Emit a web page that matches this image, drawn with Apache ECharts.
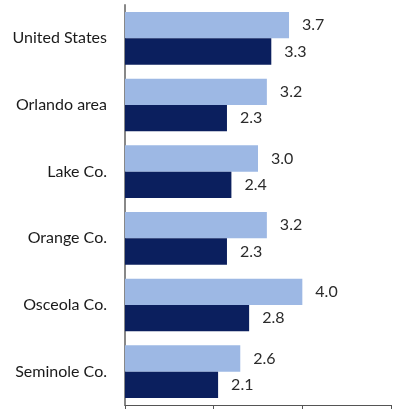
<!DOCTYPE html>
<html>
<head>
<meta charset="utf-8">
<script src="https://cdn.jsdelivr.net/npm/echarts@6/dist/echarts.min.js"></script>
<style>
  html, body { margin: 0; padding: 0; background: #fff; }
  #chart { width: 402px; height: 409px; }
</style>
</head>
<body>
<div id="chart"></div>
<script>
// 地区
const categories = ['United States', 'Orlando area', 'Lake Co.', 'Orange Co.', 'Osceola Co.', 'Seminole Co.'];
// 浅色系列
const lightValues = [3.7, 3.2, 3.0, 3.2, 4.0, 2.6];
// 深色系列
const darkValues = [3.3, 2.3, 2.4, 2.3, 2.8, 2.1];

const font = 'Lato, "Open Sans", sans-serif';

const valueLabel = {
  show: true,
  position: 'right',
  distance: 13,
  fontSize: 16,
  fontFamily: font,
  color: '#2b2b2b',
  formatter: (p) => p.value.toFixed(1),
};

const chart = echarts.init(document.getElementById('chart'));
chart.setOption({
  animation: false,
  grid: {
    left: 125,
    right: 11,
    top: 5,
    bottom: 4,
  },
  xAxis: {
    type: 'value',
    min: 0,
    max: 6,
    interval: 2,
    axisLine: { show: true, lineStyle: { color: '#555', width: 1 } },
    axisTick: { show: true, length: 4, lineStyle: { color: '#555' } },
    axisLabel: { show: false },
    splitLine: { show: false },
  },
  yAxis: {
    type: 'category',
    inverse: true,
    data: categories,
    axisLine: { show: true, lineStyle: { color: '#888', width: 2 } },
    axisTick: { show: false },
    axisLabel: {
      margin: 18,
      fontSize: 16,
      fontFamily: font,
      color: '#1a1a1a',
    },
  },
  series: [
    {
      type: 'bar',
      data: lightValues,
      barGap: '0%',
      barCategoryGap: '21%',
      itemStyle: { color: '#9db8e4' },
      label: valueLabel,
    },
    {
      type: 'bar',
      data: darkValues,
      barGap: '0%',
      barCategoryGap: '21%',
      itemStyle: { color: '#0b1f5e' },
      label: valueLabel,
    },
  ],
});
</script>
</body>
</html>
